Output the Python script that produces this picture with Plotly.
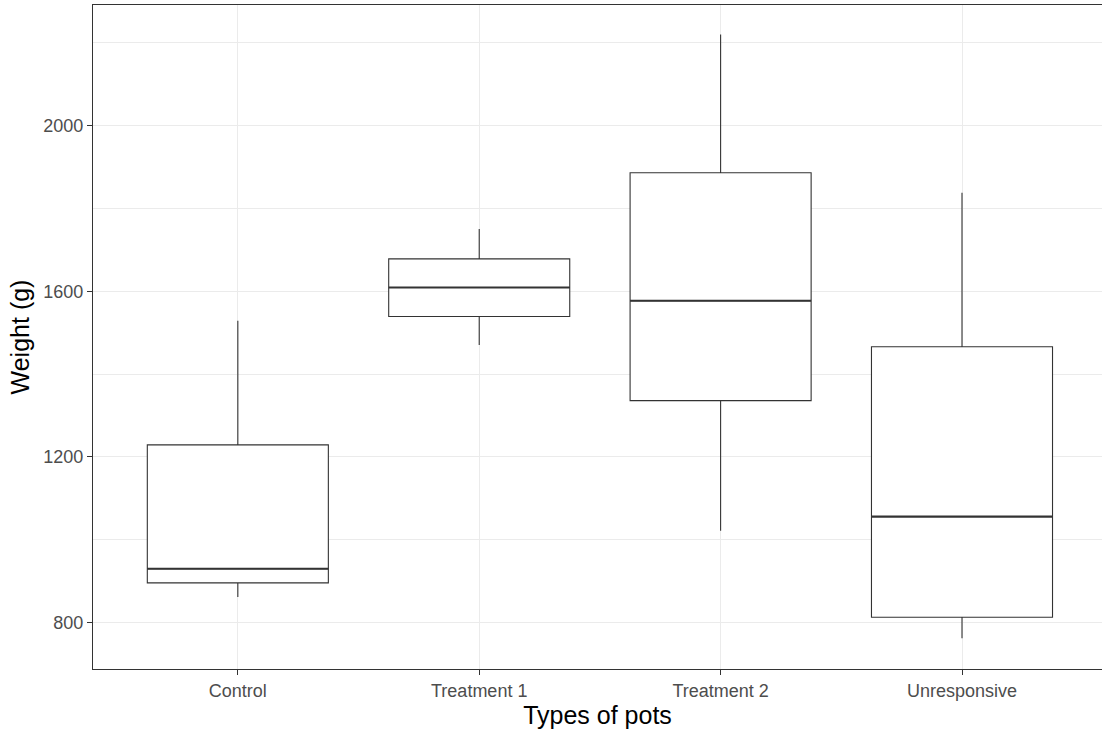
import plotly.graph_objects as go

categories = ["Control", "Treatment 1", "Treatment 2", "Unresponsive"]
lower = [862, 1470, 1022, 762]
q1 = [896, 1539, 1336, 813]
median = [930, 1609, 1577, 1056]
q3 = [1229, 1678, 1886, 1466]
upper = [1529, 1750, 2220, 1838]

BOX_W = 0.75
DARK = "#333333"

fig = go.Figure()
for i, cat in enumerate(categories):
    fig.add_trace(go.Box(
        x=[i], q1=[q1[i]], median=[median[i]], q3=[q3[i]],
        lowerfence=[lower[i]], upperfence=[upper[i]],
        width=BOX_W, whiskerwidth=0, boxpoints=False,
        fillcolor="white", line=dict(color=DARK, width=1.1),
        name=cat, showlegend=False, hoverinfo="skip",
    ))

# thicker median lines (as in ggplot2)
mx, my = [], []
for i, m in enumerate(median):
    mx += [i - BOX_W / 2, i + BOX_W / 2, None]
    my += [m, m, None]
fig.add_trace(go.Scatter(x=mx, y=my, mode="lines",
                         line=dict(color=DARK, width=2.2),
                         showlegend=False, hoverinfo="skip"))

fig.update_layout(
    width=1102, height=734,
    margin=dict(l=93, r=0, t=5, b=65),
    paper_bgcolor="white", plot_bgcolor="white",
    font=dict(family="Liberation Sans, Arial, sans-serif", color="#4D4D4D"),
)
fig.update_xaxes(
    range=[-0.6, 3.58], tickmode="array",
    tickvals=list(range(len(categories))), ticktext=categories,
    tickfont=dict(size=18, color="#4D4D4D"),
    showgrid=True, gridcolor="#EBEBEB", gridwidth=1,
    zeroline=False, showline=True, linecolor=DARK, linewidth=1.2, mirror=True,
    ticks="outside", ticklen=5, tickcolor=DARK, tickwidth=1,
    title=dict(text="Types of pots", font=dict(size=25, color="black"), standoff=5),
)
fig.update_yaxes(
    range=[688, 2291], tick0=800, dtick=400,
    tickfont=dict(size=18, color="#4D4D4D"),
    showgrid=True, gridcolor="#EBEBEB", gridwidth=1,
    minor=dict(dtick=200, tick0=800, showgrid=True, gridcolor="#EBEBEB", gridwidth=0.6),
    zeroline=False, showline=True, linecolor=DARK, linewidth=1.2, mirror=False,
    ticks="outside", ticklen=5, tickcolor=DARK, tickwidth=1,
    title=dict(text="Weight (g)", font=dict(size=25, color="black"), standoff=6),
)

fig.write_html("out.html", config={"displayModeBar": False})
with open("out.html", "r", encoding="utf-8") as f:
    html = f.read()
html = html.replace("<body>", '<body style="margin:0;padding:0;overflow:hidden">', 1)
with open("out.html", "w", encoding="utf-8") as f:
    f.write(html)
